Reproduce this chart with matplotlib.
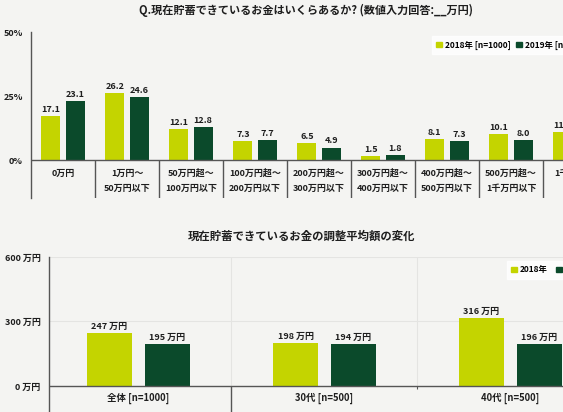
import numpy as np
import matplotlib
matplotlib.use('Agg')
import matplotlib.pyplot as plt
from matplotlib.patches import Patch

plt.rcParams['font.family'] = ['Noto Sans CJK JP', 'DejaVu Sans']

# --- data: top chart (distribution of savings, %) ---
savings_cats = ['0万円', '1万円～\n50万円以下', '50万円超～\n100万円以下', '100万円超～\n200万円以下',
                '200万円超～\n300万円以下', '300万円超～\n400万円以下', '400万円超～\n500万円以下',
                '500万円超～\n1千万円以下', '1千万円超']
pct_2018 = [17.1, 26.2, 12.1, 7.3, 6.5, 1.5, 8.1, 10.1, 11.1]
pct_2019 = [23.1, 24.6, 12.8, 7.7, 4.9, 1.8, 7.3, 8.0, 9.8]
pct_ticks = [0, 25, 50]

# --- data: bottom chart (adjusted average, 万円) ---
group_cats = ['全体 [n=1000]', '30代 [n=500]', '40代 [n=500]']
avg_2018 = [247, 198, 316]
avg_2019 = [195, 194, 196]
avg_ticks = [0, 300, 600]

light = '#c4d400'
dark = '#0b4a2b'
bg = '#f4f4f2'
axcol = '#555555'
txt = '#1e1e1e'

fig = plt.figure(figsize=(5.63, 4.12), dpi=100, facecolor=bg)
W, H = 563, 412

# ---------------- top chart ----------------
ax1 = fig.add_axes([31 / W, 1 - 198 / H, 576 / W, 166 / H])
ax1.set_facecolor(bg)
x = np.arange(len(savings_cats))
bw = 0.30
off = 0.19
b1 = ax1.bar(x - off, pct_2018, bw, color=light)
b2 = ax1.bar(x + off, pct_2019, bw, color=dark)
for bars, vals in [(b1, pct_2018), (b2, pct_2019)]:
    for b, v in zip(bars, vals):
        ax1.annotate(f'{v:.1f}', (b.get_x() + b.get_width() / 2, v), xytext=(0, 1.5),
                     textcoords='offset points', ha='center', va='bottom',
                     fontsize=6.5, fontweight='bold', color=txt)
ax1.set_xlim(-0.5, 8.5)
ax1.set_ylim(-14.8, 50)
ax1.set_yticks(pct_ticks)
ax1.set_yticklabels([f'{t}%' for t in pct_ticks], fontsize=6.5, fontweight='bold', color=txt)
ax1.tick_params(axis='y', length=0, pad=6)
ax1.set_xticks([])
for s in ['top', 'right', 'bottom']:
    ax1.spines[s].set_visible(False)
ax1.spines['left'].set_color(axcol)
ax1.spines['left'].set_linewidth(1.0)
ax1.axhline(0, color=axcol, lw=1.0)
ax1.vlines(x + 0.5, -14.8, 0, color=axcol, lw=1.0)
for i, lab in enumerate(savings_cats):
    lines = lab.split('\n')
    for j, ln in enumerate(lines):
        ax1.text(i, -5.1 - 5.8 * j, ln, ha='center', va='center', fontsize=6.5,
                 fontweight='bold', color=txt)

fig.text(306 / W, 1 - 10 / H, 'Q.現在貯蓄できているお金はいくらあるか? (数値入力回答:__万円)',
         ha='center', va='center', fontsize=8, fontweight='bold', color=txt)

leg1 = fig.legend(handles=[Patch(color=light), Patch(color=dark)],
                  labels=['2018年 [n=1000]', '2019年 [n=1000]'],
                  loc='center left', bbox_to_anchor=(428 / W, 1 - 45 / H), ncol=2,
                  frameon=True, fancybox=False, handlelength=0.7,
                  handleheight=0.7, handletextpad=0.3, columnspacing=0.7,
                  borderpad=0.5, prop={'weight': 'bold', 'size': 6})
leg1.get_frame().set_facecolor('white')
leg1.get_frame().set_edgecolor('white')

# ---------------- bottom chart ----------------
ax2 = fig.add_axes([49 / W, 0, 573 / W, 1 - 257 / H])
ax2.set_facecolor(bg)
g = np.arange(len(group_cats))
bw2 = 0.242
off2 = 0.155
c1 = ax2.bar(g - off2, avg_2018, bw2, color=light)
c2 = ax2.bar(g + off2, avg_2019, bw2, color=dark)
for bars, vals in [(c1, avg_2018), (c2, avg_2019)]:
    for b, v in zip(bars, vals):
        ax2.annotate(f'{v} 万円', (b.get_x() + b.get_width() / 2, v), xytext=(0, 1.5),
                     textcoords='offset points', ha='center', va='bottom',
                     fontsize=6.5, fontweight='bold', color=txt)
ax2.set_xlim(-0.48, 2.6)
ax2.set_ylim(-121, 600)
ax2.set_yticks(avg_ticks)
ax2.set_yticklabels([f'{t} 万円' for t in avg_ticks], fontsize=6.5, fontweight='bold', color=txt)
ax2.tick_params(axis='y', length=0, pad=6)
ax2.set_xticks([])
for s in ['top', 'right', 'bottom']:
    ax2.spines[s].set_visible(False)
ax2.spines['left'].set_color(axcol)
ax2.spines['left'].set_linewidth(1.0)
for t in avg_ticks[1:]:
    ax2.axhline(t, color='#e4e4e2', lw=0.8, zorder=0)
ax2.vlines([0.5, 1.5], 0, 600, color='#e4e4e2', lw=0.8, zorder=0)
ax2.axhline(0, color=axcol, lw=1.0)
ax2.vlines(0.5, -121, 0, color=axcol, lw=1.0)
ax2.vlines(1.5, -12, 0, color=axcol, lw=0.8)
for i, lab in enumerate(group_cats):
    ax2.text(i, -56, lab, ha='center', va='center', fontsize=6.8,
             fontweight='bold', color=txt)

fig.text(302 / W, 1 - 236 / H, '現在貯蓄できているお金の調整平均額の変化',
         ha='center', va='center', fontsize=8.2, fontweight='bold', color=txt)

leg2 = fig.legend(handles=[Patch(color=light), Patch(color=dark)],
                  labels=['2018年', '2019年 [n=1000]'],
                  loc='center left', bbox_to_anchor=(503 / W, 1 - 270 / H), ncol=2,
                  frameon=True, fancybox=False, handlelength=0.7,
                  handleheight=0.7, handletextpad=0.3, columnspacing=1.0,
                  borderpad=0.5, prop={'weight': 'bold', 'size': 6})
leg2.get_frame().set_facecolor('white')
leg2.get_frame().set_edgecolor('white')

fig.savefig('out.png', dpi=100, facecolor=bg)
